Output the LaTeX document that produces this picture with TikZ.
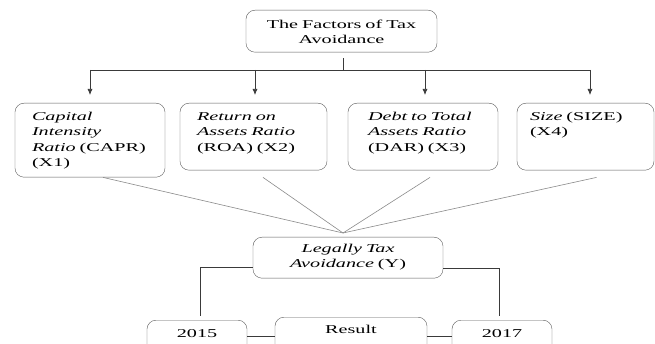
\documentclass[tikz,border=0pt]{standalone}
\usepackage{fontspec}
\setmainfont[FakeStretch=1.68]{Liberation Serif}
\usetikzlibrary{arrows.meta}
\definecolor{boxgray}{HTML}{5A5A5A}
\definecolor{fangray}{HTML}{8A8A8A}
\definecolor{busgray}{HTML}{3A3A3A}
\tikzset{
  box/.style={draw=boxgray, rounded corners=9pt, anchor=north, inner ysep=5pt,
    font=\fontsize{12}{15.5}\selectfont},
  fbox/.style={box, inner xsep=17pt, text width=#1, align=left},
  fan/.style={draw=fangray, line width=0.6pt},
  bus/.style={draw=busgray, line width=0.7pt},
}
\begin{document}
\begin{tikzpicture}[x=1pt,y=-1pt]
\clip (0,0) rectangle (655,344);
\node[box, inner xsep=5pt, text width=181pt, align=center, text height=13pt, text depth=19pt] (fac) at (341.5,10) {The Factors of Tax\\Avoidance};

\node[fbox=116pt, text height=12pt, text depth=52pt] (fac1) at (90,103) {\textit{Capital}\\\textit{Intensity}\\\textit{Ratio} (CAPR)\\(X1)};
\node[fbox=113pt, text height=12pt, text depth=45pt] (fac2) at (253.5,103) {\textit{Return on}\\\textit{Assets Ratio}\\(ROA) (X2)};
\node[fbox=110pt, inner xsep=20pt, text height=12pt, text depth=45pt] (fac3) at (423,103) {\textit{Debt to Total}\\\textit{Assets Ratio}\\(DAR) (X3)};
\node[fbox=111pt, inner xsep=13pt, text height=12pt, text depth=45pt] (fac4) at (585.5,103) {\textit{Size} (SIZE)\\(X4)};

\node[box, inner xsep=5pt, text width=180pt, align=center, text height=10pt, text depth=21pt] (lta) at (348,237) {\textit{Legally Tax}\\\textit{Avoidance} (Y)};

\node[box, inner xsep=5pt, text width=90pt, align=center, text height=12pt, text depth=30pt] (yra) at (197,320) {2015};
\node[box, inner xsep=5pt, text width=142pt, align=center, text height=11pt, text depth=34pt] (res) at (351,317) {Result};
\node[box, inner xsep=5pt, text width=90pt, align=center, text height=12pt, text depth=30pt] (yrb) at (502,320) {2017};

\coordinate (bus) at (343,70);
\coordinate (bus1) at (90,70);
\coordinate (bus2) at (255,70);
\coordinate (bus3) at (425,70);
\coordinate (bus4) at (590,70);
\coordinate (meet) at (343,233);

\draw[bus, shorten <=6pt] (fac.south -| bus) -- (bus);
\draw[bus] (bus1) -- (bus4);
\draw[bus, -{Latex[length=6pt,width=5pt]}, shorten >=8pt] (bus1) -- (bus1 |- fac1.north);
\draw[bus, -{Latex[length=6pt,width=5pt]}, shorten >=8pt] (bus2) -- (bus2 |- fac2.north);
\draw[bus, -{Latex[length=6pt,width=5pt]}, shorten >=8pt] (bus3) -- (bus3 |- fac3.north);
\draw[bus, -{Latex[length=6pt,width=5pt]}, shorten >=8pt] (bus4) -- (bus4 |- fac4.north);

\draw[fan] ([xshift=13pt]fac1.south) -- (meet);
\draw[fan] ([xshift=9.5pt,yshift=-7pt]fac2.south) -- (meet);
\draw[fan] ([xshift=7pt,yshift=-7pt]fac3.south) -- (meet);
\draw[fan] ([xshift=11pt,yshift=-7pt]fac4.south) -- (meet);

\draw[bus, shorten >=4pt] ([yshift=-9.5pt]lta.west) -| ([xshift=3pt]yra.north);
\draw[bus, shorten >=4pt] ([yshift=-10.5pt]lta.east) -| ([xshift=-3pt]yrb.north);
\draw[bus] ([yshift=-16pt]yra.north east) -- ([yshift=-16pt]yra.north east -| res.west);
\draw[bus] ([yshift=-16pt]yrb.north west) -- ([yshift=-16pt]yrb.north west -| res.east);
\end{tikzpicture}
\end{document}
